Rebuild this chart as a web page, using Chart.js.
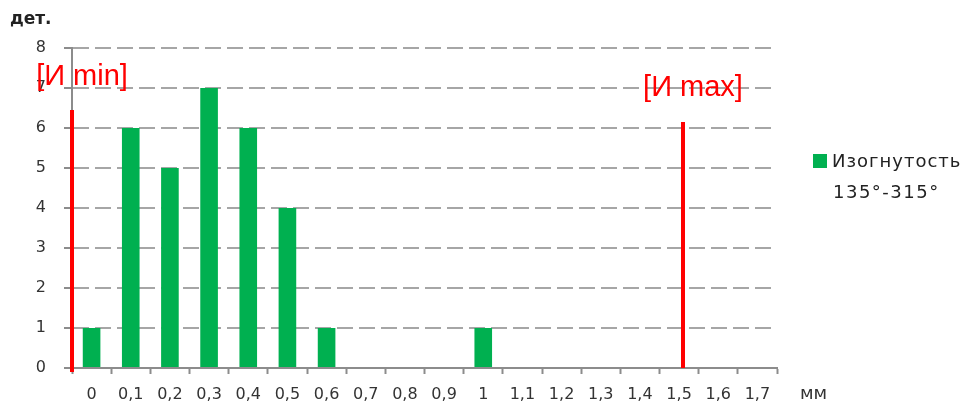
<!DOCTYPE html>
<html>
<head>
<meta charset="utf-8">
<script src="https://cdn.jsdelivr.net/npm/chart.js@4/dist/chart.umd.min.js"></script>
<style>
  html, body { margin: 0; padding: 0; background: #ffffff; }
  #wrap { width: 971px; height: 407px; position: relative; }
</style>
</head>
<body>
<div id="wrap"><canvas id="c"></canvas></div>
<script>
// Deflection classes, mm
const categories = ['0', '0,1', '0,2', '0,3', '0,4', '0,5', '0,6', '0,7', '0,8', '0,9',
                    '1', '1,1', '1,2', '1,3', '1,4', '1,5', '1,6', '1,7'];
// Number of parts in each class
const counts = [1, 6, 5, 7, 6, 4, 1, 0, 0, 0, 1, 0, 0, 0, 0, 0, 0, 0];
const yTicks = [0, 1, 2, 3, 4, 5, 6, 7, 8];

// Tolerance limits (mm) and the heights of their marker lines
const limitX = [-0.05, 1.51];
const limitTop = [6.45, 6.15];
const limitBottom = [-0.1, 0];
const limitLabels = ['[И min]', '[И max]'];
const limitLabelY = [7.27, 7.0];

const seriesName = ['Изогнутость', '135°-315°'];
const yTitle = 'дет.';
const xTitle = 'мм';

const GREEN = '#00b050';
const RED = '#ff0000';
const FONT = 'DejaVu Sans';

const limitDatasets = limitX.map((x, i) => ({
  type: 'line',
  xAxisID: 'x2',
  yAxisID: 'y',
  data: [{ x: x, y: limitBottom[i] }, { x: x, y: limitTop[i] }],
  borderColor: RED,
  borderWidth: 4,
  pointRadius: 0,
  fill: false,
  clip: false
}));

const decorations = {
  id: 'decorations',
  afterDatasetsDraw(chart) {
    const ctx = chart.ctx;
    const ca = chart.chartArea;
    const x2 = chart.scales.x2;
    const y = chart.scales.y;
    ctx.save();
    // limit captions
    ctx.fillStyle = RED;
    ctx.font = '29px "Liberation Sans"';
    ctx.textAlign = 'center';
    ctx.textBaseline = 'middle';
    limitLabels.forEach((t, i) => {
      ctx.fillText(t, x2.getPixelForValue(limitX[i]) + 10, y.getPixelForValue(limitLabelY[i]));
    });
    // axis titles
    ctx.textAlign = 'left';
    ctx.fillStyle = '#222';
    ctx.font = 'bold 17px "' + FONT + '"';
    ctx.fillText(yTitle, 10, 20);
    ctx.fillStyle = '#333';
    ctx.font = '18px "' + FONT + '"';
    ctx.fillText(xTitle, ca.right + 23, ca.bottom + 26);
    // legend
    const lx = ca.right + 36;
    ctx.fillStyle = GREEN;
    ctx.fillRect(lx, 154, 14, 14);
    ctx.fillStyle = '#222';
    ctx.font = '18px "' + FONT + '"';
    ctx.letterSpacing = '1px';
    ctx.fillText(seriesName[0], lx + 19, 162);
    ctx.letterSpacing = '1.5px';
    ctx.fillText(seriesName[1], lx + 20, 193);
    ctx.restore();
  }
};

new Chart(document.getElementById('c'), {
  type: 'bar',
  data: {
    labels: categories,
    datasets: [{
      type: 'bar',
      label: seriesName.join(' '),
      data: counts,
      backgroundColor: GREEN,
      borderWidth: 0,
      grouped: false,
      barPercentage: 0.45,
      categoryPercentage: 1.0,
      xAxisID: 'x',
      yAxisID: 'y'
    }, ...limitDatasets]
  },
  options: {
    responsive: true,
    maintainAspectRatio: false,
    animation: false,
    layout: { padding: { left: 0, top: 48, right: 194, bottom: 0 } },
    plugins: { legend: { display: false }, tooltip: { enabled: false } },
    scales: {
      x: {
        type: 'category',
        offset: true,
        afterFit(s) { s.height = 39; },
        grid: {
          offset: true,
          drawOnChartArea: false,
          drawTicks: true,
          tickLength: 6,
          tickColor: '#8c8c8c',
          tickWidth: 2
        },
        border: { color: '#8c8c8c', width: 2 },
        ticks: {
          color: '#333',
          font: { family: FONT, size: 16 },
          padding: 11,
          maxRotation: 0,
          autoSkip: false
        }
      },
      x2: {
        type: 'linear',
        min: limitX[0],
        max: 1.75,
        offset: false,
        grid: { offset: false },
        display: false
      },
      y: {
        min: yTicks[0],
        max: yTicks[yTicks.length - 1],
        afterFit(s) { s.width = 72; },
        afterBuildTicks(s) { s.ticks = yTicks.map(v => ({ value: v })); },
        grid: {
          color: c => (c.tick && c.tick.value === 0) ? 'rgba(0,0,0,0)' : '#a6a6a6',
          lineWidth: 2,
          tickBorderDash: [],
          tickLength: 8,
          tickColor: '#8c8c8c',
          tickWidth: 2
        },
        border: { color: '#8c8c8c', width: 2, dash: [16, 6] },
        ticks: {
          color: '#333',
          font: { family: FONT, size: 16 },
          padding: 18
        }
      }
    }
  },
  plugins: [decorations]
});
</script>
</body>
</html>
